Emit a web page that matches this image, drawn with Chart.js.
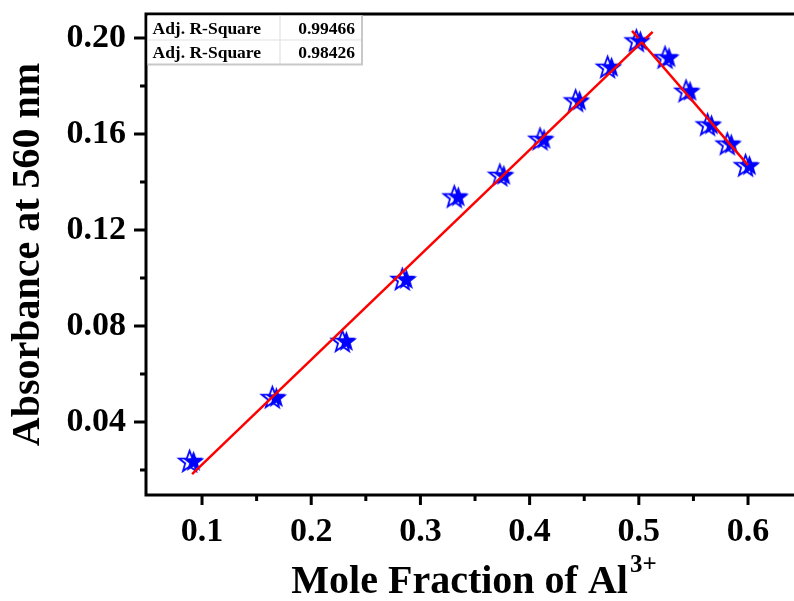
<!DOCTYPE html>
<html>
<head>
<meta charset="utf-8">
<script src="https://cdn.jsdelivr.net/npm/chart.js@4.4.1/dist/chart.umd.min.js"></script>
<style>
  html, body { margin: 0; padding: 0; background: #fff; }
  #wrap { width: 794px; height: 601px; position: relative; }
</style>
</head>
<body>
<div id="wrap"><canvas id="c"></canvas></div>
<script>
// ---- data ----
const moleFraction = [0.0909, 0.1667, 0.2308, 0.2857, 0.3333, 0.375, 0.4118, 0.4444, 0.4737, 0.5, 0.5263, 0.5455, 0.5652, 0.5833, 0.6];
const absorbance   = [0.0238, 0.0504, 0.0738, 0.0996, 0.1340, 0.1430, 0.1580, 0.1740, 0.1880, 0.1990, 0.1920, 0.1780, 0.1640, 0.1560, 0.1470];

// linear fits (intercept, slope) of the rising and falling branches
const fitIntercept = [-0.0214, 0.4630];
const fitSlope     = [0.4369, -0.5266];
const fitStart     = [0.0909, 0.6];     // outer end of each solid fit line
const fitExtend    = [0.514, 0.490];    // end of dashed extrapolation past the crossing

const statLabels = ['Adj. R-Square', 'Adj. R-Square'];
const statValues = ['0.99466', '0.98426'];

const xTickValues = [0.1, 0.2, 0.3, 0.4, 0.5, 0.6];
const xMinorTicks = [0.15, 0.25, 0.35, 0.45, 0.55];
const yTickValues = [0.04, 0.08, 0.12, 0.16, 0.20];
const yMinorTicks = [0.02, 0.06, 0.10, 0.14, 0.18];

const xTitle = 'Mole Fraction of Al';
const xTitleSup = '3+';
const yTitle = 'Absorbance at 560 nm';

// ---- derived fit lines ----
const xCross = (fitIntercept[1] - fitIntercept[0]) / (fitSlope[0] - fitSlope[1]);
const fitY = (i, x) => fitIntercept[i] + fitSlope[i] * x;
const solid = [0, 1].map(i => [fitStart[i], xCross].map(x => ({ x, y: fitY(i, x) })));
const dashed = [0, 1].map(i => [xCross, fitExtend[i]].map(x => ({ x, y: fitY(i, x) })));

// ---- half-filled star symbol ----
function starPath(ctx, cx, cy, R, r) {
  ctx.beginPath();
  for (let k = 0; k < 10; k++) {
    const a = -Math.PI / 2 + k * Math.PI / 5;
    const rad = k % 2 === 0 ? R : r;
    const px = cx + rad * Math.cos(a), py = cy + rad * Math.sin(a);
    k === 0 ? ctx.moveTo(px, py) : ctx.lineTo(px, py);
  }
  ctx.closePath();
}
const sym = document.createElement('canvas');
sym.width = 32; sym.height = 28;
(function () {
  const g = sym.getContext('2d');
  g.strokeStyle = '#0000ff'; g.lineWidth = 1.8; g.lineJoin = 'miter';
  starPath(g, 13.5, 15, 11.2, 4.6);
  g.stroke();
  g.fillStyle = '#0000ff';
  starPath(g, 17.5, 15, 11.2, 4.6);
  g.fill();
})();

const FONT = "'Liberation Serif', 'Times New Roman', serif";

const decor = {
  id: 'decor',
  afterDraw(chart) {
    const ctx = chart.ctx, a = chart.chartArea;
    const xs = chart.scales.x, ys = chart.scales.y;
    ctx.save();
    ctx.strokeStyle = '#000'; ctx.lineWidth = 3; ctx.lineCap = 'butt';
    // axes + top line
    ctx.beginPath();
    ctx.moveTo(a.left, a.top); ctx.lineTo(a.left, a.bottom + 1.5);
    ctx.moveTo(a.left - 1.5, a.bottom); ctx.lineTo(a.right, a.bottom);
    ctx.moveTo(a.left - 1.5, a.top); ctx.lineTo(a.right, a.top);
    ctx.stroke();
    // ticks
    ctx.beginPath();
    xTickValues.forEach(v => { const p = xs.getPixelForValue(v); ctx.moveTo(p, a.bottom); ctx.lineTo(p, a.bottom + 10); });
    xMinorTicks.forEach(v => { const p = xs.getPixelForValue(v); ctx.moveTo(p, a.bottom); ctx.lineTo(p, a.bottom + 6); });
    yTickValues.forEach(v => { const p = ys.getPixelForValue(v); ctx.moveTo(a.left, p); ctx.lineTo(a.left - 12, p); });
    yMinorTicks.forEach(v => { const p = ys.getPixelForValue(v); ctx.moveTo(a.left, p); ctx.lineTo(a.left - 6, p); });
    ctx.stroke();

    // statistics table
    const tx = a.left + 1.5, ty = a.top + 1.5, tw = 362 - tx, rh = 24.5, cw = 280 - tx;
    ctx.fillStyle = '#fff';
    ctx.fillRect(tx, ty, tw, rh * 2);
    ctx.strokeStyle = '#e2e2e2'; ctx.lineWidth = 1.2;
    ctx.beginPath();
    ctx.moveTo(tx, ty + rh); ctx.lineTo(tx + tw, ty + rh);
    ctx.moveTo(tx + cw, ty); ctx.lineTo(tx + cw, ty + rh * 2);
    ctx.stroke();
    ctx.strokeStyle = '#c8c8c8'; ctx.lineWidth = 2;
    ctx.beginPath();
    ctx.moveTo(tx, ty + rh * 2); ctx.lineTo(tx + tw, ty + rh * 2); ctx.lineTo(tx + tw, ty);
    ctx.stroke();
    ctx.fillStyle = '#000';
    ctx.font = 'bold 17.5px ' + FONT;
    ctx.textBaseline = 'alphabetic';
    for (let i = 0; i < statLabels.length; i++) {
      const by = ty + rh * i + 18;
      ctx.textAlign = 'left';
      ctx.fillText(statLabels[i], tx + 5, by);
      ctx.textAlign = 'right';
      ctx.fillText(statValues[i], tx + tw - 7, by);
    }

    // x axis title with superscript
    ctx.font = 'bold 40px ' + FONT;
    const w1 = ctx.measureText(xTitle).width;
    ctx.font = 'bold 25px ' + FONT;
    const w2 = ctx.measureText(xTitleSup).width;
    const cx = (a.left + a.right) / 2 + 4;
    const x0 = cx - (w1 + w2 + 2) / 2;
    ctx.textAlign = 'left';
    ctx.font = 'bold 40px ' + FONT;
    ctx.fillText(xTitle, x0, 593);
    ctx.font = 'bold 25px ' + FONT;
    ctx.fillText(xTitleSup, x0 + w1 + 2, 572);
    ctx.restore();
  }
};

const redLine = { borderColor: '#ff0000', borderWidth: 2.5, pointRadius: 0, showLine: true, fill: false, order: 0 };

new Chart(document.getElementById('c'), {
  type: 'scatter',
  data: {
    datasets: [
      Object.assign({ label: 'fit1', data: solid[0] }, redLine),
      Object.assign({ label: 'fit2', data: solid[1] }, redLine),
      Object.assign({ label: 'ext1', data: dashed[0], borderDash: [0, 5, 10, 60] }, redLine),
      Object.assign({ label: 'ext2', data: dashed[1], borderDash: [0, 5, 10, 60] }, redLine),
      {
        label: 'Absorbance',
        data: moleFraction.map((x, i) => ({ x, y: absorbance[i] })),
        pointStyle: sym, pointRadius: 11, showLine: false, order: 1
      }
    ]
  },
  options: {
    responsive: true, maintainAspectRatio: false, animation: false,
    layout: { autoPadding: false, padding: { top: 14, right: 0, bottom: 0, left: 0 } },
    plugins: { legend: { display: false }, tooltip: { enabled: false } },
    scales: {
      x: {
        type: 'linear', min: 0.0487, max: 0.6421,
        grid: { display: false }, border: { display: false },
        afterBuildTicks: s => { s.ticks = xTickValues.map(v => ({ value: v })); },
        afterFit: s => { s.height = 106; s.paddingLeft = 0; s.paddingRight = 0; },
        ticks: {
          autoSkip: false, maxRotation: 0, padding: 9, color: '#000',
          font: { family: FONT, weight: 'bold', size: 34 },
          callback: v => Number(v).toFixed(1)
        }
      },
      y: {
        type: 'linear', min: 0.0096, max: 0.21,
        grid: { display: false }, border: { display: false },
        afterBuildTicks: s => { s.ticks = yTickValues.map(v => ({ value: v })); },
        afterFit: s => { s.width = 146; s.paddingTop = 0; s.paddingBottom = 0; },
        ticks: {
          autoSkip: false, padding: 12, color: '#000',
          font: { family: FONT, weight: 'bold', size: 34 },
          callback: v => Number(v).toFixed(2)
        },
        title: {
          display: true, text: yTitle, color: '#000',
          font: { family: FONT, weight: 'bold', size: 40 },
          padding: { top: 5, bottom: 0 }
        }
      }
    }
  },
  plugins: [decor]
});
</script>
</body>
</html>
